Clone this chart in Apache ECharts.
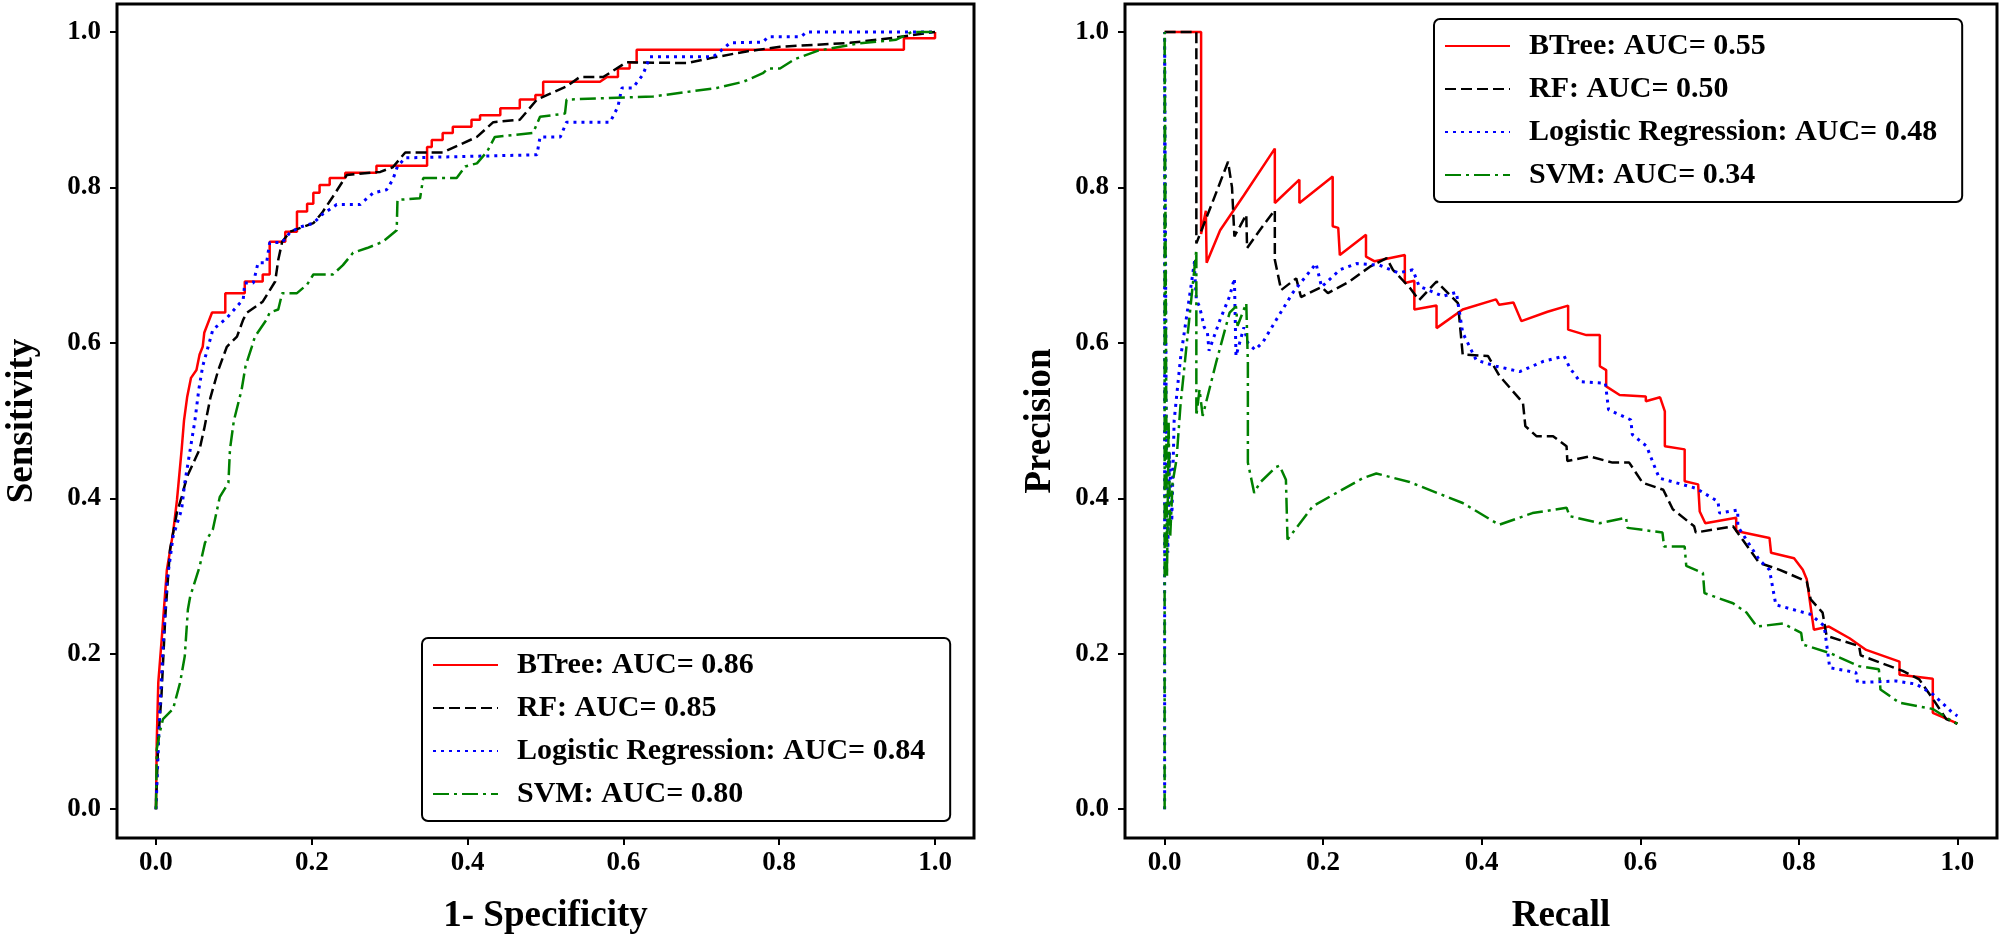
<!doctype html>
<html>
<head>
<meta charset="utf-8" />
<title>ROC / PR</title>
<script src="https://cdn.jsdelivr.net/npm/echarts@6/dist/echarts.min.js"></script>
<style>
  html, body { margin: 0; padding: 0; background: #fff; }
  #main { width: 2000px; height: 943px; }
</style>
</head>
<body>
<div id="main"></div>
<script>
// tick values and labels
var ticks = [0, 0.2, 0.4, 0.6, 0.8, 1.0];

// left panel: ROC curves, [1-specificity, sensitivity]
var rocNames = ['BTree: AUC= 0.86', 'RF: AUC= 0.85', 'Logistic Regression: AUC= 0.84', 'SVM: AUC= 0.80'];

var rocBTree = [[0,0],[0.001,0.086],[0.003,0.163],[0.008,0.227],[0.014,0.308],[0.022,0.356],[0.027,0.398],[0.033,0.463],
  [0.036,0.50],[0.040,0.53],[0.045,0.555],[0.052,0.565],[0.056,0.585],[0.060,0.595],[0.062,0.613],[0.072,0.639],
  [0.089,0.639],[0.089,0.664],[0.114,0.664],[0.114,0.679],[0.137,0.679],[0.137,0.688],[0.146,0.688],[0.146,0.730],
  [0.166,0.730],[0.166,0.743],[0.181,0.743],[0.181,0.769],[0.194,0.769],[0.194,0.779],[0.202,0.779],[0.202,0.793],
  [0.21,0.793],[0.21,0.803],[0.223,0.803],[0.223,0.812],[0.243,0.812],[0.243,0.819],[0.283,0.819],[0.283,0.828],
  [0.348,0.828],[0.348,0.852],[0.354,0.852],[0.354,0.861],[0.368,0.861],[0.368,0.870],[0.381,0.870],[0.381,0.878],
  [0.405,0.878],[0.405,0.887],[0.416,0.887],[0.416,0.893],[0.442,0.893],[0.442,0.902],[0.467,0.902],[0.467,0.913],
  [0.487,0.913],[0.487,0.919],[0.497,0.919],[0.497,0.936],[0.570,0.936],[0.579,0.942],[0.593,0.942],[0.593,0.953],
  [0.608,0.953],[0.608,0.961],[0.617,0.961],[0.617,0.977],[0.96,0.977],[0.96,0.992],[1,0.992],[1,1]];

var rocRF = [[0,0],[0.003,0.09],[0.007,0.145],[0.012,0.248],[0.018,0.334],[0.027,0.382],[0.033,0.402],[0.040,0.428],
  [0.056,0.463],[0.062,0.49],[0.070,0.53],[0.080,0.565],[0.091,0.595],[0.104,0.608],[0.112,0.630],[0.117,0.639],
  [0.137,0.653],[0.153,0.679],[0.157,0.707],[0.162,0.730],[0.172,0.743],[0.202,0.754],[0.213,0.767],[0.227,0.788],
  [0.245,0.816],[0.288,0.820],[0.304,0.826],[0.320,0.845],[0.368,0.845],[0.412,0.865],[0.433,0.884],[0.467,0.887],
  [0.489,0.913],[0.527,0.930],[0.544,0.942],[0.574,0.942],[0.604,0.961],[0.682,0.960],[0.715,0.967],[0.758,0.975],
  [0.801,0.981],[0.891,0.986],[0.95,0.993],[1,1]];

var rocLR = [[0,0],[0.005,0.129],[0.009,0.206],[0.014,0.292],[0.022,0.351],[0.033,0.386],[0.037,0.420],[0.044,0.463],
  [0.050,0.50],[0.055,0.54],[0.060,0.57],[0.067,0.595],[0.073,0.617],[0.091,0.632],[0.112,0.656],[0.114,0.677],
  [0.125,0.677],[0.131,0.703],[0.142,0.703],[0.146,0.729],[0.162,0.729],[0.172,0.742],[0.185,0.749],[0.202,0.754],
  [0.213,0.765],[0.232,0.778],[0.262,0.778],[0.279,0.793],[0.296,0.797],[0.304,0.810],[0.310,0.827],[0.32,0.838],
  [0.489,0.842],[0.493,0.865],[0.519,0.865],[0.527,0.884],[0.583,0.884],[0.593,0.904],[0.598,0.928],[0.612,0.928],
  [0.625,0.945],[0.634,0.968],[0.715,0.968],[0.724,0.975],[0.737,0.986],[0.779,0.987],[0.786,0.994],[0.828,0.994],
  [0.835,1.0],[1,1]];

var rocSVM = [[0,0],[0.001,0.077],[0.005,0.099],[0.009,0.116],[0.022,0.129],[0.031,0.163],[0.037,0.197],[0.041,0.257],
  [0.044,0.274],[0.056,0.312],[0.063,0.343],[0.073,0.36],[0.082,0.402],[0.093,0.420],[0.095,0.463],[0.100,0.50],
  [0.110,0.54],[0.115,0.57],[0.123,0.595],[0.127,0.608],[0.142,0.630],[0.146,0.639],[0.157,0.643],[0.162,0.664],
  [0.181,0.664],[0.194,0.675],[0.202,0.688],[0.227,0.688],[0.240,0.700],[0.253,0.716],[0.271,0.722],[0.291,0.730],
  [0.309,0.745],[0.310,0.784],[0.339,0.786],[0.343,0.812],[0.386,0.812],[0.397,0.827],[0.412,0.831],[0.425,0.846],
  [0.435,0.865],[0.484,0.870],[0.493,0.891],[0.525,0.895],[0.527,0.913],[0.638,0.917],[0.720,0.928],[0.754,0.936],
  [0.779,0.947],[0.786,0.953],[0.801,0.953],[0.82,0.965],[0.85,0.976],[0.9,0.985],[0.95,0.99],[0.97,1.0],[1,1]];

// right panel: precision-recall curves, [recall, precision]
var prNames = ['BTree: AUC= 0.55', 'RF: AUC= 0.50', 'Logistic Regression: AUC= 0.48', 'SVM: AUC= 0.34'];

var prBTree = [[0,1],[0.046,1],[0.046,0.74],[0.052,0.77],[0.053,0.703],[0.07,0.745],[0.1,0.79],[0.139,0.85],
  [0.139,0.78],[0.17,0.81],[0.17,0.78],[0.212,0.814],[0.212,0.75],[0.219,0.748],[0.221,0.713],[0.254,0.739],
  [0.254,0.711],[0.265,0.705],[0.303,0.713],[0.303,0.677],[0.315,0.68],[0.315,0.643],[0.343,0.648],[0.343,0.619],
  [0.376,0.643],[0.418,0.656],[0.422,0.649],[0.44,0.652],[0.450,0.628],[0.483,0.640],[0.509,0.648],[0.509,0.617],
  [0.532,0.610],[0.549,0.610],[0.549,0.570],[0.557,0.565],[0.557,0.544],[0.574,0.533],[0.607,0.531],[0.607,0.525],
  [0.625,0.53],[0.631,0.512],[0.631,0.467],[0.656,0.463],[0.656,0.422],[0.673,0.418],[0.675,0.383],[0.682,0.368],
  [0.721,0.375],[0.721,0.358],[0.763,0.349],[0.765,0.330],[0.794,0.323],[0.805,0.308],[0.81,0.296],[0.819,0.231],
  [0.838,0.235],[0.864,0.220],[0.885,0.205],[0.927,0.190],[0.927,0.173],[0.969,0.168],[0.969,0.124],[0.994,0.113],
  [1,0.11]];

var prRF = [[0,1],[0.040,1],[0.040,0.728],[0.06,0.78],[0.080,0.833],[0.085,0.80],[0.088,0.737],[0.095,0.75],
  [0.103,0.765],[0.104,0.722],[0.12,0.745],[0.139,0.771],[0.139,0.707],[0.147,0.668],[0.166,0.683],[0.172,0.659],
  [0.198,0.672],[0.206,0.664],[0.233,0.679],[0.259,0.698],[0.280,0.709],[0.288,0.694],[0.31,0.67],[0.321,0.655],
  [0.343,0.679],[0.370,0.651],[0.376,0.585],[0.408,0.583],[0.422,0.558],[0.452,0.523],[0.455,0.493],[0.469,0.480],
  [0.490,0.480],[0.507,0.467],[0.508,0.448],[0.536,0.454],[0.565,0.446],[0.586,0.446],[0.603,0.420],[0.629,0.411],
  [0.641,0.386],[0.668,0.364],[0.670,0.356],[0.717,0.364],[0.750,0.317],[0.776,0.308],[0.810,0.293],[0.815,0.27],
  [0.830,0.253],[0.835,0.223],[0.876,0.210],[0.878,0.198],[0.931,0.178],[0.952,0.167],[0.969,0.142],[0.986,0.116],
  [1,0.11]];

var prLR = [[0,0],[0,1],[0.002,0.5],[0.004,0.33],[0.006,0.46],[0.009,0.37],[0.012,0.5],[0.02,0.58],[0.03,0.65],
  [0.038,0.707],[0.038,0.69],[0.040,0.655],[0.044,0.647],[0.050,0.62],[0.054,0.613],[0.056,0.59],[0.07,0.63],
  [0.082,0.66],[0.088,0.683],[0.090,0.583],[0.1,0.62],[0.105,0.6],[0.114,0.591],[0.124,0.601],[0.141,0.630],
  [0.162,0.665],[0.191,0.702],[0.198,0.672],[0.221,0.694],[0.242,0.702],[0.271,0.700],[0.295,0.69],[0.313,0.694],
  [0.321,0.673],[0.351,0.660],[0.368,0.665],[0.376,0.613],[0.393,0.578],[0.418,0.570],[0.448,0.563],[0.477,0.576],
  [0.504,0.583],[0.511,0.568],[0.524,0.550],[0.556,0.548],[0.560,0.514],[0.588,0.501],[0.590,0.482],[0.608,0.467],
  [0.616,0.446],[0.624,0.426],[0.670,0.413],[0.698,0.396],[0.700,0.381],[0.723,0.385],[0.723,0.364],[0.750,0.321],
  [0.763,0.308],[0.771,0.263],[0.814,0.251],[0.832,0.236],[0.839,0.182],[0.872,0.176],[0.874,0.163],[0.923,0.165],
  [0.948,0.161],[0.969,0.148],[0.992,0.126],[1,0.12]];

var prSVM = [[0,0],[0,1],[0.003,0.3],[0.005,0.5],[0.007,0.35],[0.01,0.42],[0.015,0.45],[0.02,0.52],[0.03,0.62],
  [0.040,0.72],[0.040,0.506],[0.044,0.54],[0.048,0.506],[0.065,0.575],[0.082,0.639],[0.090,0.647],[0.092,0.622],
  [0.103,0.651],[0.105,0.574],[0.105,0.446],[0.113,0.407],[0.12,0.42],[0.14,0.44],[0.145,0.442],[0.153,0.424],
  [0.155,0.347],[0.187,0.39],[0.25,0.426],[0.267,0.432],[0.309,0.421],[0.376,0.394],[0.422,0.366],[0.464,0.381],
  [0.507,0.388],[0.511,0.377],[0.549,0.368],[0.582,0.375],[0.584,0.362],[0.628,0.356],[0.630,0.338],[0.656,0.338],
  [0.658,0.313],[0.679,0.304],[0.681,0.278],[0.717,0.265],[0.734,0.253],[0.747,0.235],[0.780,0.239],[0.803,0.227],
  [0.805,0.212],[0.839,0.201],[0.876,0.184],[0.901,0.180],[0.903,0.154],[0.927,0.137],[0.969,0.129],[0.994,0.113],
  [1,0.11]];

var colors = ['#ff0000', '#000000', '#0000ff', '#008000'];
var dashes = ['solid', [11, 5], [3, 5], [16, 5, 3, 5]];
var widths = [2.5, 2.5, 3, 2.5];
var FONT = 'Liberation Serif';

function lineSeries(name, data, i, g) {
  return {
    name: name,
    type: 'line',
    xAxisIndex: g,
    yAxisIndex: g,
    data: data,
    symbol: 'none',
    showSymbol: false,
    z: 2 + i,
    lineStyle: { color: colors[i], width: widths[i], type: dashes[i] },
    itemStyle: { color: colors[i] }
  };
}

function xAx(g, name) {
  return {
    type: 'value', gridIndex: g, min: -0.05, max: 1.05,
    name: name, nameLocation: 'middle', nameGap: 60,
    nameTextStyle: { fontFamily: FONT, fontWeight: 'bold', fontSize: 37, color: '#000' },
    axisLine: { show: false, onZero: false },
    splitLine: { show: false },
    axisTick: { show: true, length: 7, customValues: ticks, lineStyle: { color: '#000', width: 2 } },
    axisLabel: { customValues: ticks, margin: 12, fontFamily: FONT, fontWeight: 'bold', fontSize: 27, color: '#000',
      formatter: function (v) { return v.toFixed(1); } }
  };
}

function yAx(g, name, gap) {
  return {
    type: 'value', gridIndex: g, min: -0.037, max: 1.036,
    name: name, nameLocation: 'middle', nameGap: gap, nameRotate: 90,
    nameTextStyle: { fontFamily: FONT, fontWeight: 'bold', fontSize: 37, color: '#000' },
    axisLine: { show: false, onZero: false },
    splitLine: { show: false },
    axisTick: { show: true, length: 7, customValues: ticks, lineStyle: { color: '#000', width: 2 } },
    axisLabel: { customValues: ticks, margin: 16, fontFamily: FONT, fontWeight: 'bold', fontSize: 27, color: '#000',
      formatter: function (v) { return v.toFixed(1); } }
  };
}

function legendBox(names, left, top) {
  return {
    data: names, orient: 'vertical', left: left, top: top,
    itemWidth: 65, itemHeight: 14, itemGap: 13,
    padding: [12, 25, 12, 10],
    borderColor: '#000', borderWidth: 2, borderRadius: 6, backgroundColor: '#fff',
    itemStyle: { opacity: 0 },
    textStyle: { fontFamily: FONT, fontWeight: 'bold', fontSize: 30, lineHeight: 30, color: '#000', padding: [0, 0, 0, 14] }
  };
}

var chart = echarts.init(document.getElementById('main'), null, { renderer: 'canvas' });
var rocData = [rocBTree, rocRF, rocLR, rocSVM];
var prData = [prBTree, prRF, prLR, prSVM];
var series = [];
rocData.forEach(function (d, i) { series.push(lineSeries(rocNames[i], d, i, 0)); });
prData.forEach(function (d, i) { series.push(lineSeries(prNames[i], d, i, 1)); });

chart.setOption({
  animation: false,
  backgroundColor: '#fff',
  grid: [
    { left: 117, top: 4, width: 857, height: 834, show: true, borderColor: '#000', borderWidth: 3, backgroundColor: 'transparent' },
    { left: 1125, top: 4, width: 872, height: 834, show: true, borderColor: '#000', borderWidth: 3, backgroundColor: 'transparent' }
  ],
  xAxis: [xAx(0, '1- Specificity'), xAx(1, 'Recall')],
  yAxis: [yAx(0, 'Sensitivity', 76), yAx(1, 'Precision', 66)],
  legend: [legendBox(rocNames, 422, 638), legendBox(prNames, 1434, 19)],
  series: series
});
</script>
</body>
</html>
